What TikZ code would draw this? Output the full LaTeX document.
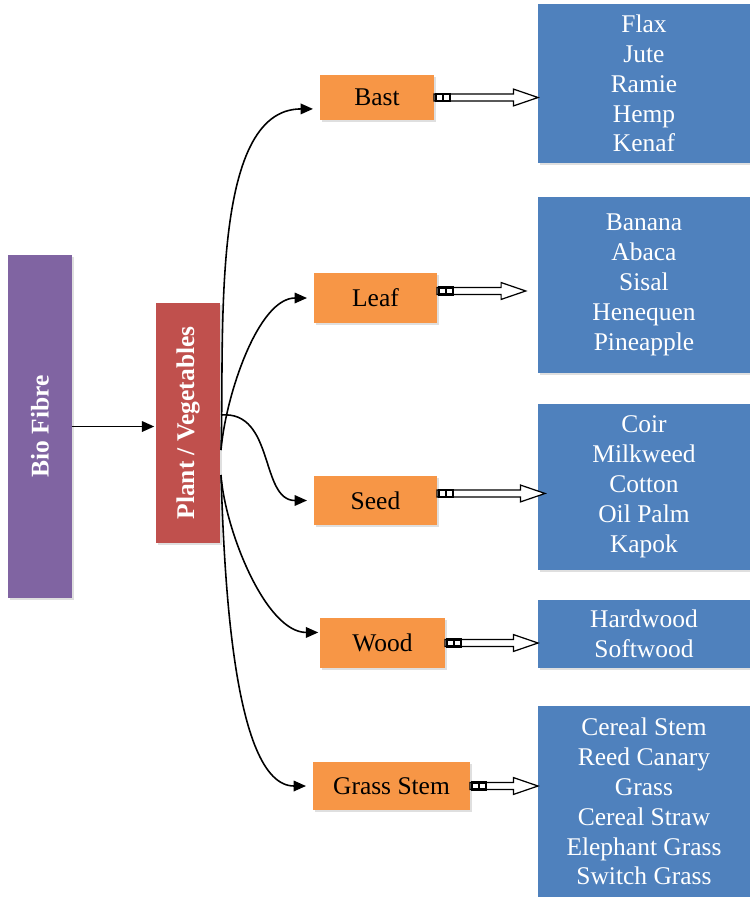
\documentclass[tikz,border=0pt]{standalone}
\usepackage{fontspec}
\setmainfont{Liberation Serif}
\usepackage{tikz}
\usetikzlibrary{calc,arrows.meta,shadows}
\definecolor{bioC}{HTML}{8064A2}
\definecolor{plantC}{HTML}{C0504D}
\definecolor{partC}{HTML}{F79646}
\definecolor{listC}{HTML}{4F81BD}
\tikzset{
  boxS/.style    ={inner sep=0pt, outer sep=0pt, drop shadow={shadow xshift=1.2pt, shadow yshift=-1.2pt, opacity=0.25}},
  bioS/.style    ={boxS, fill=bioC, text=white, font=\fontsize{14.5}{17}\selectfont\bfseries},
  plantS/.style  ={boxS, fill=plantC, text=white, font=\fontsize{14.5}{17}\selectfont\bfseries},
  partS/.style   ={boxS, fill=partC, text=black, font=\fontsize{14.5}{17}\selectfont},
  listS/.style   ={boxS, fill=listC, text=white, align=center, font=\fontsize{14.5}{17}\selectfont},
  link/.style    ={black, line width=0.9pt, -{Triangle[length=7pt,width=6pt]}, shorten >=4pt},
  hollow/.style  ={draw=black, fill=white, line width=0.7pt, line join=miter},
  tailS/.style   ={draw=black, fill=white, line width=1.3pt},
}
% hollow block arrow, tail at #1, tip at #2
\newcommand\fatarrow[2]{%
  \draw[hollow] let \p1=(#1), \p2=(#2) in
    (\x1,\y1+2pt) -- (\x2-14pt,\y1+2pt) -- (\x2-14pt,\y1+4.8pt) -- (\x2,\y1)
    -- (\x2-14pt,\y1-4.8pt) -- (\x2-14pt,\y1-2pt) -- (\x1,\y1-2pt) -- cycle;
  \draw[tailS] let \p1=(#1) in
    (\x1+1pt,\y1-2pt) rectangle (\x1+9pt,\y1+2pt) (\x1+5pt,\y1-2pt) -- (\x1+5pt,\y1+2pt);
}

\begin{document}
\begin{tikzpicture}[x=0.02cm, y=-0.02cm]
  \useasboundingbox (0,0) rectangle (750,897);
  % left side
  \node[bioS, minimum width=1.28cm, minimum height=6.86cm] (bio) at (40,426.5) {\rotatebox{90}{Bio Fibre}};
  \node[plantS, minimum width=1.28cm, minimum height=4.8cm] (plant) at (188,423) {\rotatebox{90}{Plant / Vegetables}};
  \draw[link, shorten >=1pt] (bio.east) -- (bio.east -| plant.west);
  % fibre parts
  \node[partS, minimum width=2.28cm, minimum height=0.9cm] (bast)  at (377,97.5)  {Bast};
  \node[partS, minimum width=2.46cm, minimum height=1.0cm] (leaf)  at (375.5,298) {Leaf};
  \node[partS, minimum width=2.46cm, minimum height=0.98cm] (seed) at (375.5,500.5){Seed};
  \node[partS, minimum width=2.5cm,  minimum height=1.0cm] (wood)  at (382.5,643) {Wood};
  \node[partS, minimum width=3.14cm, minimum height=0.96cm] (grass) at (391.5,786){Grass Stem};
  % fibre lists
  \node[listS, minimum width=4.24cm, minimum height=3.18cm] (bastL)  at (644,83.5)  {Flax\\Jute\\Ramie\\Hemp\\Kenaf};
  \node[listS, minimum width=4.24cm, minimum height=3.52cm] (leafL)  at (644,285)   {Banana\\Abaca\\Sisal\\Henequen\\Pineapple};
  \node[listS, minimum width=4.24cm, minimum height=3.32cm] (seedL)  at (644,487)   {Coir\\Milkweed\\Cotton\\Oil Palm\\Kapok};
  \node[listS, minimum width=4.24cm, minimum height=1.36cm] (woodL)  at (644,634)   {Hardwood\\Softwood};
  \node[listS, minimum width=4.24cm, minimum height=3.82cm] (grassL) at (644,801.5) {Cereal Stem\\Reed Canary\\Grass\\Cereal Straw\\Elephant Grass\\Switch Grass};
  % curved links
  \coordinate (hubU) at (221,450);
  \coordinate (hubM) at (221,415);
  \coordinate (hubD) at (221,475);
  \draw[link] (hubU) to[out=88, in=180, looseness=0.8] ([yshift=-6.5pt]bast.west);
  \draw[link] (hubU) to[out=85, in=180, looseness=0.8] (leaf.west);
  \draw[link] (hubM) to[out=5, in=180, looseness=1.1] (seed.west);
  \draw[link, shorten >=1pt] (hubD) to[out=-86, in=180, looseness=0.75] ([yshift=6pt]wood.west);
  \draw[link] (hubD) to[out=-88, in=180, looseness=0.65] (grass.west);
  % block arrows
  \fatarrow{bast.east}{bastL.west}
  \fatarrow{[yshift=4pt]leaf.east}{[xshift=-7pt]leafL.west}
  \fatarrow{[yshift=4pt]seed.east}{[xshift=4pt]seedL.west}
  \fatarrow{wood.east}{woodL.west}
  \fatarrow{grass.east}{grassL.west}
\end{tikzpicture}
\end{document}
